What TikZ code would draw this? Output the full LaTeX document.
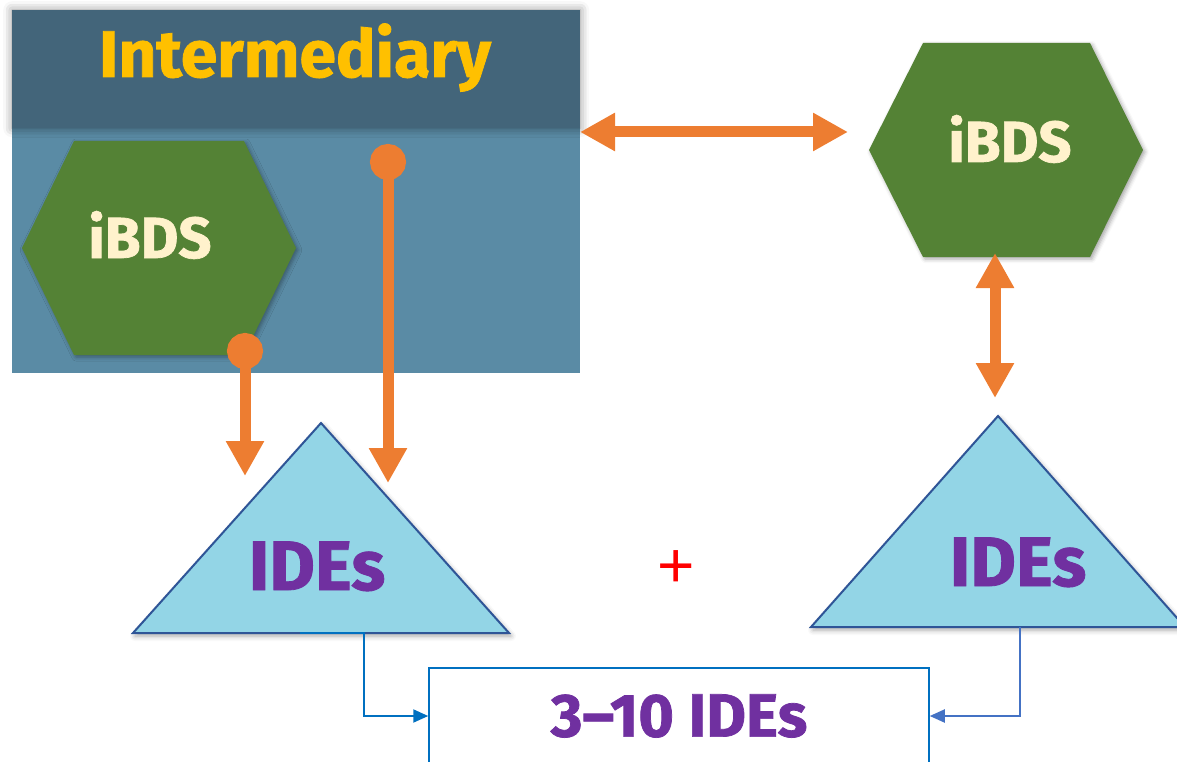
\documentclass[tikz,border=0pt]{standalone}
\usepackage{fontspec}
\setmainfont{Fira Sans}[BoldFeatures={FakeBold=1.2}]
\newfontfamily\signfont{Liberation Sans}
\usetikzlibrary{arrows.meta,shadows.blur}
\definecolor{headblue}{HTML}{43657A}
\definecolor{panelblue}{HTML}{5A8BA5}
\definecolor{hexgreen}{HTML}{548235}
\definecolor{cream}{HTML}{FFF2CC}
\definecolor{gold}{HTML}{FFC000}
\definecolor{linkorange}{HTML}{ED7D31}
\definecolor{trifill}{HTML}{93D5E6}
\definecolor{triborder}{HTML}{2F5597}
\definecolor{idepurple}{HTML}{7030A0}
\definecolor{boxblue}{HTML}{0070C0}
\definecolor{softblue}{HTML}{4472C4}
\begin{document}
\begin{tikzpicture}[
		x=1pt,y=-1pt,
		panel/.style = {fill=panelblue, inner sep=0pt, minimum width=568pt, minimum height=245pt},
		headbox/.style = {fill=headblue, inner sep=0pt, minimum width=568pt, minimum height=118pt,
			blur shadow={shadow xshift=0pt, shadow yshift=0pt, shadow blur radius=9pt, shadow opacity=45}},
		titletext/.style = {text=gold, font=\fontsize{66}{66}\selectfont\bfseries},
		hexa/.style = {fill=hexgreen, blur shadow={shadow xshift=2pt, shadow yshift=-2pt, shadow blur radius=4pt, shadow opacity=35}},
		hexlabel/.style = {text=cream, font=\fontsize{58}{58}\selectfont\bfseries},
		tri/.style = {fill=trifill, draw=triborder, line width=2pt, line join=miter,
			blur shadow={shadow xshift=2pt, shadow yshift=-3pt, shadow blur radius=5pt, shadow opacity=35}},
		idelabel/.style = {text=idepurple, font=\fontsize{70}{70}\selectfont\bfseries},
		plussign/.style = {text=red, inner sep=0pt, font=\signfont\fontsize{64}{64}\selectfont},
		sumbox/.style = {draw=boxblue, line width=1.5pt, fill=white, minimum width=500pt, minimum height=96pt,
			text=idepurple, font=\fontsize{61}{61}\selectfont\bfseries},
		link/.style = {linkorange, line width=11pt},
		both/.style = {link, {Triangle[length=35pt,width=36pt]}-{Triangle[length=35pt,width=36pt]}},
		feed/.style = {link, {Circle[length=36pt]}-{Triangle[length=35pt,width=36pt]}},
		conn/.style = {boxblue, line width=2pt, -{Triangle[length=15pt,width=13pt]}}
	]
	\useasboundingbox (0,0) rectangle (1177,762);

	\node (panel) [panel, anchor=north west] at (12,128) {};
	\node (head) [headbox, anchor=north west] at (12,10) {};
	\node (title) [titletext, anchor=base] at (295,77) {Intermediary};

	\path [hexa] (22,248) -- (74,141) -- (244,141) -- (296,248) -- (244,355) -- (74,355) -- cycle;
	\node (ibdsL) [hexlabel, anchor=base] at (150,258) {iBDS};
	\path [hexa] (869,150) -- (923,43) -- (1090,43) -- (1143,150) -- (1090,257) -- (923,257) -- cycle;
	\node (ibdsR) [hexlabel, anchor=base] at (1010,162) {iBDS};

	\path [tri] (133,633) -- (321,423) -- (509,633) -- cycle;
	\node (ideL) [idelabel, anchor=base] at (317,590) {IDEs};
	\path [tri] (811,627) -- (998,416) -- (1185,627) -- cycle;
	\node (ideR) [idelabel, anchor=base] at (1018,586) {IDEs};

	\node (plus) [plussign] at (676,569) {+};
	\node (total) [sumbox] at (679,716) {3–10 IDEs};

	\coordinate (dotL) at (245,333);
	\coordinate (tipL) at (245,476);
	\coordinate (dotR) at (388,144);
	\coordinate (tipR) at (388,483);
	\coordinate (linkW) at (580,132);
	\coordinate (linkE) at (848,132);
	\coordinate (upN) at (995,253);
	\coordinate (upS) at (995,398);
	\coordinate (footL) at (300,633);
	\coordinate (footR) at (1020,627);

	\draw [feed] (dotL) -- (tipL);
	\draw [feed] (dotR) -- (tipR);
	\draw [both] (linkW) -- (linkE);
	\draw [both] (upN) -- (upS);
	\draw [conn] (footL) -- ++(64,0) |- (total.west);
	\draw [conn, softblue] (footR) |- (total.east);
\end{tikzpicture}
\end{document}
